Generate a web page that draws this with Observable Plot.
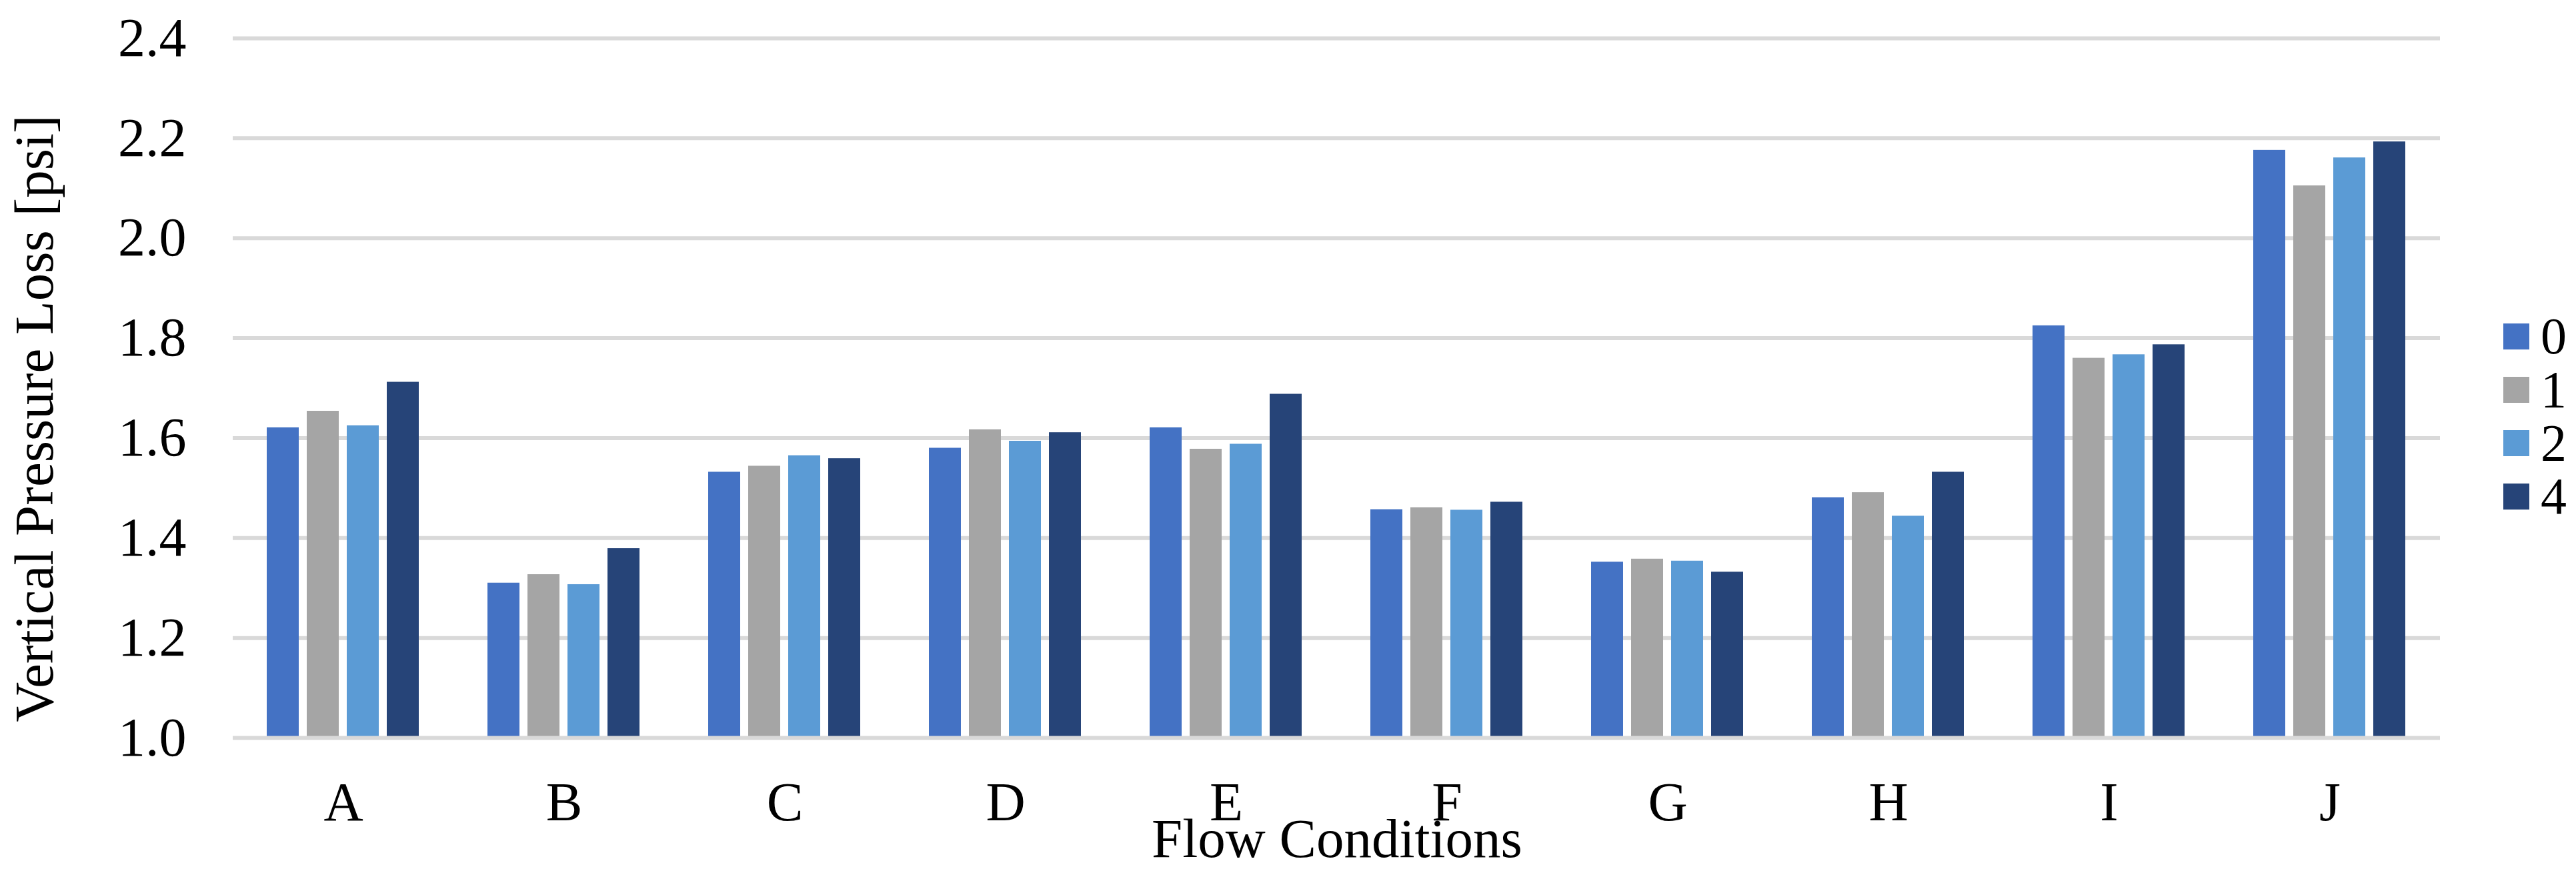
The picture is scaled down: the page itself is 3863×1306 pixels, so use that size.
<!DOCTYPE html>
<html>
<head>
<meta charset="utf-8">
<script src="https://cdn.jsdelivr.net/npm/d3@7"></script>
<script src="https://cdn.jsdelivr.net/npm/@observablehq/plot@0.6"></script>
<style>
  html, body { margin: 0; padding: 0; background: #fff; }
  #wrap { position: relative; width: 3863px; height: 1306px; overflow: hidden; }
  #wrap svg { position: absolute; left: 0; top: 0; }
</style>
</head>
<body>
<div id="wrap"></div>
<script>
// ---- data ----
const categories = ["A", "B", "C", "D", "E", "F", "G", "H", "I", "J"];
const seriesNames = ["0", "1", "2", "4"];
const series0 = [1.621, 1.310, 1.532, 1.580, 1.621, 1.457, 1.352, 1.481, 1.825, 2.176];
const series1 = [1.654, 1.327, 1.544, 1.617, 1.578, 1.461, 1.358, 1.491, 1.760, 2.105];
const series2 = [1.625, 1.307, 1.565, 1.594, 1.588, 1.456, 1.354, 1.444, 1.767, 2.161];
const series4 = [1.712, 1.379, 1.559, 1.611, 1.688, 1.472, 1.332, 1.532, 1.787, 2.193];
const yTicks = [1.0, 1.2, 1.4, 1.6, 1.8, 2.0, 2.2, 2.4];
const yDomain = [1.0, 2.4];
const colors = ["#4472C4", "#A5A5A5", "#5B9BD5", "#264478"];
const yTitle = "Vertical Pressure Loss [psi]";
const xTitle = "Flow Conditions";

const seriesValues = [series0, series1, series2, series4];
const table = [];
categories.forEach((c, i) => {
  seriesNames.forEach((s, j) => {
    table.push({cat: c, series: s, value: seriesValues[j][i]});
  });
});

const FONT = "'Liberation Serif', 'Times New Roman', serif";

const chart = Plot.plot({
  width: 3863,
  height: 1306,
  marginLeft: 345,
  marginRight: 201,
  marginTop: 57,
  marginBottom: 200,
  style: {fontFamily: FONT, fontSize: "82px", color: "#000", background: "#fff", overflow: "visible"},
  fx: {domain: categories, padding: 0, label: null, tickSize: 0, tickPadding: 65},
  x: {domain: seriesNames, paddingInner: 0.196, paddingOuter: 0.848, axis: null},
  y: {domain: yDomain, ticks: yTicks, tickSize: 0, tickPadding: 70, tickFormat: ".1f", label: null},
  color: {domain: seriesNames, range: colors},
  marks: [
    Plot.ruleY(yTicks.slice(1), {stroke: "#d9d9d9", strokeWidth: 6}),
    Plot.barY(table, {fx: "cat", x: "series", y1: () => yDomain[0], y2: "value", fill: "series"}),
    Plot.ruleY([yDomain[0]], {stroke: "#d9d9d9", strokeWidth: 6})
  ]
});

const wrap = document.getElementById("wrap");
wrap.appendChild(chart);

// ---- overlay: axis titles and legend ----
const ov = d3.select(wrap).append("svg")
  .attr("width", 3863).attr("height", 1306)
  .style("pointer-events", "none")
  .attr("font-family", FONT);

ov.append("text")
  .attr("transform", "translate(79,627.5) rotate(-90)")
  .attr("text-anchor", "middle")
  .attr("font-size", 83)
  .attr("fill", "#000")
  .text(yTitle);

ov.append("text")
  .attr("x", 2005).attr("y", 1285)
  .attr("text-anchor", "middle")
  .attr("font-size", 83)
  .attr("fill", "#000")
  .text(xTitle);

const lg = ov.append("g");
seriesNames.forEach((s, i) => {
  lg.append("rect")
    .attr("x", 3754).attr("y", 485 + i * 80)
    .attr("width", 39).attr("height", 39)
    .attr("fill", chart.scale("color").apply(s));
  lg.append("text")
    .attr("x", 3810).attr("y", 530 + i * 80)
    .attr("font-size", 78)
    .attr("fill", "#000")
    .text(s);
});
</script>
</body>
</html>
